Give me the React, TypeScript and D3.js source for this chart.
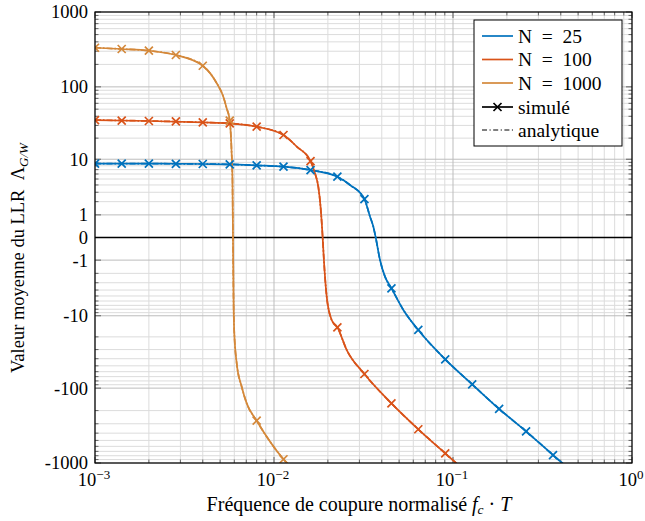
import React from 'react';
import * as d3 from 'd3';

// x positions of the simulated points (sqrt(2) steps)
const markX = [0.001, 0.00141, 0.002, 0.00283, 0.004, 0.00566, 0.008, 0.0113, 0.016, 0.0226,
  0.032, 0.0453, 0.064, 0.0905, 0.128, 0.181, 0.256, 0.362];

const simN25 = [8.6, 8.6, 8.6, 8.55, 8.5, 8.4, 8.1, 7.75, 6.9, 5.44, 2.25, -3.74, -16, -40.8, -88.8, -190, -378, -783];
const simN100 = [35.5, 34.8, 34.5, 34, 33, 32, 28.8, 22.1, 9.4, -14.7, -64.5, -160, -355, -743];
const simN1000 = [334, 321, 305, 267, 192, 35, -273, -892];

// analytic curves (denser)
const anaN25: [number, number][] = [
  [0.001, 8.6], [0.002, 8.6], [0.004, 8.5], [0.00566, 8.4], [0.008, 8.1], [0.0113, 7.75],
  [0.016, 6.9], [0.0226, 5.44], [0.0266, 4.0], [0.032, 2.25], [0.0344, 0.89], [0.0359, 0.39],
  [0.037, 0], [0.0391, -0.99], [0.0417, -2.32], [0.0453, -3.74], [0.0528, -8.2], [0.064, -16],
  [0.0905, -40.8], [0.128, -88.8], [0.181, -190], [0.256, -378], [0.362, -783], [0.512, -1600],
];
const anaN100: [number, number][] = [
  [0.001, 35.5], [0.002, 34.5], [0.004, 33], [0.00566, 32], [0.008, 28.8], [0.0113, 22.1],
  [0.0134, 15.2], [0.016, 9.4], [0.01695, 6.15], [0.01768, 3.74], [0.0182, 1.57], [0.0187, 0],
  [0.019, -0.99], [0.0197, -5.13], [0.021, -11.5], [0.0226, -14.7], [0.0255, -30.4],
  [0.032, -64.5], [0.0453, -160], [0.064, -355], [0.0905, -743], [0.128, -1550],
];
const anaN1000: [number, number][] = [
  [0.001, 334], [0.00141, 321], [0.002, 305], [0.00283, 267], [0.004, 192], [0.00479, 111.7],
  [0.00521, 73.8], [0.00544, 51.4], [0.00566, 35], [0.0058, 12.2], [0.00586, 5], [0.0059, 0],
  [0.00594, -5], [0.00599, -16], [0.00619, -46.2], [0.0066, -95.6], [0.00704, -160],
  [0.008, -273], [0.0113, -892], [0.016, -1900],
];

const seriesNames = ['N\u2002=\u200225', 'N\u2002=\u2002100', 'N\u2002=\u20021000'];
const colors = ['#0072BD', '#D95319', '#D4883A'];

const xTicks = [1e-3, 1e-2, 1e-1, 1];
const xTickExp = ['\u22123', '\u22122', '\u22121', '0'];
const yTicks = [-1000, -100, -10, -1, 0, 1, 10, 100, 1000];
const yTickLabels = ['-1000', '-100', '-10', '-1', '0', '1', '10', '100', '1000'];

const W = 645;
const H = 521;
const left = 95, right = 632, top = 12, bottom = 463;
const FONT = '"Liberation Serif", "Times New Roman", serif';
const tx = { fontFamily: FONT };

const App = () => {
  const x = d3.scaleLog().domain([1e-3, 1]).range([left, right]);
  const y = d3.scaleSymlog().constant(1).domain([-1000, 1000]).range([bottom, top]);

  const xMinor: number[] = [];
  [1e-3, 1e-2, 1e-1].forEach(d => { for (let i = 2; i <= 9; i++) xMinor.push(d * i); });
  const yMinor: number[] = [];
  [1, 10, 100].forEach(d => { for (let i = 2; i <= 9; i++) { yMinor.push(d * i); yMinor.push(-d * i); } });

  const line = d3.line<[number, number]>()
    .x(d => x(d[0]))
    .y(d => y(d[1]))
    .curve(d3.curveMonotoneX);

  const sims = [simN25, simN100, simN1000];
  const anas = [anaN25, anaN100, anaN1000];

  const cross = 'M-4,-4L4,4M-4,4L4,-4';

  const legX = 474, legY = 20, legW = 148, legH = 126;
  const rowY = [36, 59.5, 83, 107, 130];

  return (
    <svg width={W} height={H} style={{ position: 'absolute', left: 0, top: 0, background: '#fff' }}>
      <defs>
        <clipPath id="plotclip">
          <rect x={left} y={top} width={right - left} height={bottom - top} />
        </clipPath>
      </defs>
      <rect x={0} y={0} width={W} height={H} fill="#fff" />

      {/* grid */}
      <g>
        {xMinor.map((v, i) => (
          <line key={'xm' + i} x1={x(v)} x2={x(v)} y1={top} y2={bottom} stroke="#dcdcdc" strokeWidth={1} />
        ))}
        {yMinor.map((v, i) => (
          <line key={'ym' + i} x1={left} x2={right} y1={y(v)} y2={y(v)} stroke="#dcdcdc" strokeWidth={1} />
        ))}
        {xTicks.map((v, i) => (
          <line key={'xM' + i} x1={x(v)} x2={x(v)} y1={top} y2={bottom} stroke="#bdbdbd" strokeWidth={1} />
        ))}
        {yTicks.map((v, i) => (
          <line key={'yM' + i} x1={left} x2={right} y1={y(v)} y2={y(v)} stroke="#bdbdbd" strokeWidth={1} />
        ))}
      </g>

      {/* ticks inside */}
      <g stroke="#444" strokeWidth={0.8}>
        {xMinor.map((v, i) => (
          <g key={'xmt' + i}>
            <line x1={x(v)} x2={x(v)} y1={bottom} y2={bottom - 3.5} />
            <line x1={x(v)} x2={x(v)} y1={top} y2={top + 3.5} />
          </g>
        ))}
        {xTicks.map((v, i) => (
          <g key={'xMt' + i}>
            <line x1={x(v)} x2={x(v)} y1={bottom} y2={bottom - 6} />
            <line x1={x(v)} x2={x(v)} y1={top} y2={top + 6} />
          </g>
        ))}
        {yMinor.map((v, i) => (
          <g key={'ymt' + i}>
            <line x1={left} x2={left + 3.5} y1={y(v)} y2={y(v)} />
            <line x1={right} x2={right - 3.5} y1={y(v)} y2={y(v)} />
          </g>
        ))}
        {yTicks.map((v, i) => (
          <g key={'yMt' + i}>
            <line x1={left} x2={left + 6} y1={y(v)} y2={y(v)} />
            <line x1={right} x2={right - 6} y1={y(v)} y2={y(v)} />
          </g>
        ))}
      </g>

      {/* zero line */}
      <line x1={left} x2={right} y1={y(0)} y2={y(0)} stroke="#000" strokeWidth={1.6} />

      {/* curves */}
      <g clipPath="url(#plotclip)">
        {anas.map((a, i) => (
          <path key={'sim' + i} d={line(a) || ''} fill="none" stroke={colors[i]} strokeWidth={1.7} />
        ))}
        {anas.map((a, i) => (
          <path key={'ana' + i} d={line(a) || ''} fill="none" stroke={colors[i]} strokeWidth={1.7}
            strokeDasharray="6 2 1.5 2" />
        ))}
        {sims.map((s, i) => (
          <g key={'mk' + i}>
            {s.map((v, j) => (
              <path key={j} d={cross} transform={`translate(${x(markX[j])},${y(v)})`}
                fill="none" stroke={colors[i]} strokeWidth={1.7} />
            ))}
          </g>
        ))}
      </g>

      {/* frame */}
      <rect x={left} y={top} width={right - left} height={bottom - top} fill="none" stroke="#000" strokeWidth={1.2} />

      {/* tick labels */}
      <g fill="#000">
        {yTicks.map((v, i) => (
          <text key={'yl' + i} x={left - 7} y={y(v)} dy="0.35em" textAnchor="end" fontSize={18.5} style={tx}>{yTickLabels[i]}</text>
        ))}
        {xTicks.map((v, i) => (
          <text key={'xl' + i} x={x(v) - 1} y={bottom + 23} textAnchor="middle" fontSize={18.5} style={tx}>
            10<tspan dy={-7} fontSize={13}>{xTickExp[i]}</tspan>
          </text>
        ))}
      </g>

      {/* axis labels */}
      <text x={359} y={511} fontSize={20} textAnchor="middle" style={tx}>
        Fréquence de coupure normalisé <tspan fontStyle="italic">f</tspan>
        <tspan fontSize={13.5} dy={3} fontStyle="italic">c</tspan>
        <tspan dy={-3}> · </tspan><tspan fontStyle="italic">T</tspan>
      </text>
      <text transform="translate(24,258) rotate(-90)" fontSize={18.5} textAnchor="middle" style={tx}>
        Valeur moyenne du LLR{'\u2002'}<tspan>Λ</tspan>
        <tspan fontSize={13} dy={4} fontStyle="italic">G/W</tspan>
      </text>

      {/* legend */}
      <g>
        <rect x={legX} y={legY} width={legW} height={legH} fill="#fff" stroke="#000" strokeWidth={1} />
        {seriesNames.map((n, i) => (
          <g key={'lg' + i}>
            <line x1={482} x2={513} y1={rowY[i]} y2={rowY[i]} stroke={colors[i]} strokeWidth={1.7} />
            <text x={518} y={rowY[i]} dy="0.35em" fontSize={19.5} style={tx}>{n}</text>
          </g>
        ))}
        <line x1={482} x2={513} y1={rowY[3]} y2={rowY[3]} stroke="#000" strokeWidth={1.7} />
        <path d={cross} transform={`translate(497.5,${rowY[3]})`} fill="none" stroke="#000" strokeWidth={1.7} />
        <text x={518} y={rowY[3]} dy="0.35em" fontSize={19.5} style={tx}>simulé</text>
        <line x1={482} x2={513} y1={rowY[4]} y2={rowY[4]} stroke="#000" strokeWidth={1} strokeDasharray="5 2.5 1.2 2.5" />
        <text x={518} y={rowY[4]} dy="0.35em" fontSize={19.5} style={tx}>analytique</text>
      </g>
    </svg>
  );
};

export default App;
